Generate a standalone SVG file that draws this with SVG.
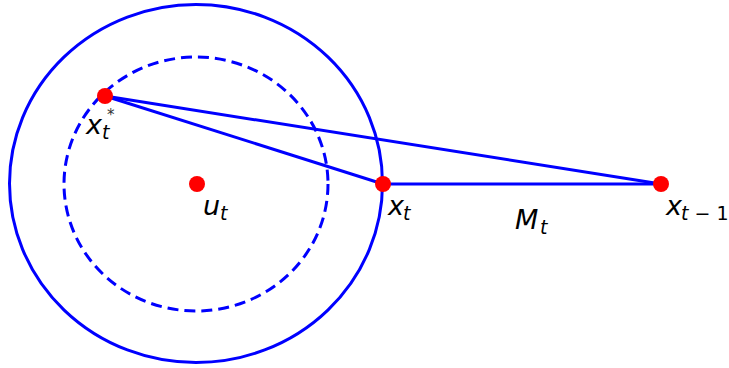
<svg xmlns="http://www.w3.org/2000/svg" width="729" height="368" viewBox="0 0 729 368">
<style>
.c{fill:none;stroke:#0000ff;stroke-width:3}
.d{stroke-dasharray:11,6}
.l{stroke:#0000ff;stroke-width:3;fill:none}
.p{fill:#ff0000}
text{font-family:"DejaVu Sans",sans-serif;font-style:italic;fill:#000}
.m{font-size:27px}
.s{font-size:19px}
.n{font-style:normal}
.st{font-size:15px;fill:#333}
</style>
<rect width="729" height="368" fill="#fff"/>
<g id="outer-circle"><ellipse class="c" cx="196" cy="183.5" rx="186.5" ry="179"/></g>
<g id="inner-circle"><ellipse class="c d" cx="196" cy="184" rx="132" ry="127"/></g>
<g id="connectors">
<line class="l" x1="105" y1="96" x2="383" y2="184"/>
<line class="l" x1="105" y1="96" x2="661" y2="184"/>
<line class="l" x1="383" y1="184" x2="661" y2="184"/>
</g>
<g id="xstar">
<circle class="p" cx="105" cy="96" r="8"/>
<text class="m" x="86" y="134">x</text>
<text class="s" x="102" y="139">t</text>
<text class="st n" x="107" y="120">*</text>
</g>
<g id="ut">
<circle class="p" cx="197" cy="184" r="8"/>
<text class="m" x="203" y="215">u</text>
<text class="s" x="220" y="220">t</text>
</g>
<g id="xt">
<circle class="p" cx="383" cy="184" r="8"/>
<text class="m" x="388" y="215">x</text>
<text class="s" x="403" y="220">t</text>
</g>
<g id="Mt">
<text class="m" x="515" y="229">M</text>
<text class="s" x="540" y="234">t</text>
</g>
<g id="xt1">
<circle class="p" cx="661" cy="184" r="8"/>
<text class="m" x="666" y="215">x</text>
<text class="s" x="681" y="220">t<tspan class="n"> − 1</tspan></text>
</g>
</svg>
